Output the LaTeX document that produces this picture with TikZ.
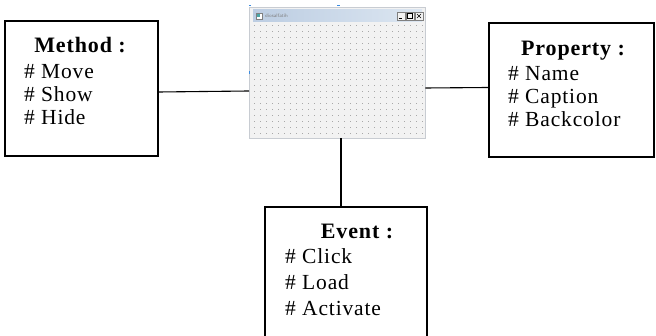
\documentclass[tikz,border=0pt]{standalone}
\usepackage{fontspec}
\setmainfont{Liberation Serif}[LetterSpace=4]
\usetikzlibrary{positioning}
\definecolor{winborder}{HTML}{C8CCD2}
\definecolor{winbody}{HTML}{F2F2F2}
\definecolor{titleA}{HTML}{BCCDE2}
\definecolor{titleB}{HTML}{DCE6F1}
\definecolor{dotgray}{HTML}{A8A8A8}
\definecolor{handle}{HTML}{3C8CE0}
\tikzset{
  box/.style={draw=black, line width=1.2pt, rectangle, inner sep=0pt},
  conn/.style={draw=black, line width=1.1pt},
  ttl/.style={font=\fontsize{22}{22}\selectfont\bfseries, anchor=base, inner sep=0pt},
  item/.style={font=\fontsize{21.5}{21.5}\selectfont, anchor=base west, inner sep=0pt},
}
\begin{document}
\begin{tikzpicture}[x=1pt,y=-1pt]
\clip (0,0) rectangle (656,336);
\fill[white] (0,0) rectangle (656,336);
% boxes
\node[box, minimum width=153pt, minimum height=135pt] (method) at (81.5,88.5) {};
\node[box, minimum width=165pt, minimum height=134pt] (property) at (571.5,90) {};
\node[box, minimum width=162pt, minimum height=140pt] (event) at (346,277) {};
% window
\node[draw=winborder, fill=winbody, line width=0.8pt, minimum width=176pt, minimum height=131pt, inner sep=0pt] (win) at (337,72.5) {};
\shade[left color=titleA, right color=titleB] (253,10) rectangle (422,22);
\foreach \xx in {254,260,...,422}{
  \foreach \yy in {25,31,...,136}{
    \fill[dotgray] (\xx,\yy) rectangle ++(1,1);
  }
}
\node[draw=gray, fill=white, minimum size=6pt, inner sep=0pt] (icon) at (259,16) {};
\fill[teal!70] (257,14) rectangle ++(3,3);
\node[anchor=west, inner sep=0pt, font=\sffamily\fontsize{5}{5}\selectfont, text=gray] (wtitle) at (265,16) {diosalfatih};
\node[draw=gray, fill=winbody, minimum size=8pt, inner sep=0pt] (bmin) at (401,16) {};
\node[draw=gray, fill=winbody, minimum size=8pt, inner sep=0pt] (bmax) at (410,16) {};
\node[draw=gray, fill=winbody, minimum size=8pt, inner sep=0pt] (bclose) at (419,16) {};
\draw[black, line width=0.6pt] (398.5,18.5) -- (402,18.5);
\draw[black, line width=0.6pt] (407.5,13.5) rectangle (412.5,18.5);
\draw[black, line width=0.6pt] (417,14) -- (421,18) (421,14) -- (417,18);
% handles
\fill[handle] (249,5) rectangle ++(2,1.5);
\fill[handle] (337,5) rectangle ++(3,1.5);
\fill[handle] (249,71) rectangle ++(1,3);
% connectors
\coordinate (mL) at (249,91);
\draw[conn] (method.east |- 0,92) -- (mL);
\draw[conn] (win.east |- 0,88) -- (property.west |- 0,87.5);
\draw[conn] (win.south -| 341,0) -- (event.north -| 341,0);
% texts
\node[ttl] (mt) at (80,53) {Method :};
\node[item] (m1) at (24,79) {\# Move};
\node[item] (m2) at (24,102) {\# Show};
\node[item] (m3) at (24,125) {\# Hide};
\node[ttl] (pt) at (573,56) {Property :};
\node[item] (p1) at (508,81) {\# Name};
\node[item] (p2) at (508,104) {\# Caption};
\node[item] (p3) at (508,127) {\# Backcolor};
\node[ttl] (et) at (357,239) {Event :};
\node[item] (e1) at (285,264) {\# Click};
\node[item] (e2) at (285,290) {\# Load};
\node[item] (e3) at (285,316) {\# Activate};
\end{tikzpicture}
\end{document}
